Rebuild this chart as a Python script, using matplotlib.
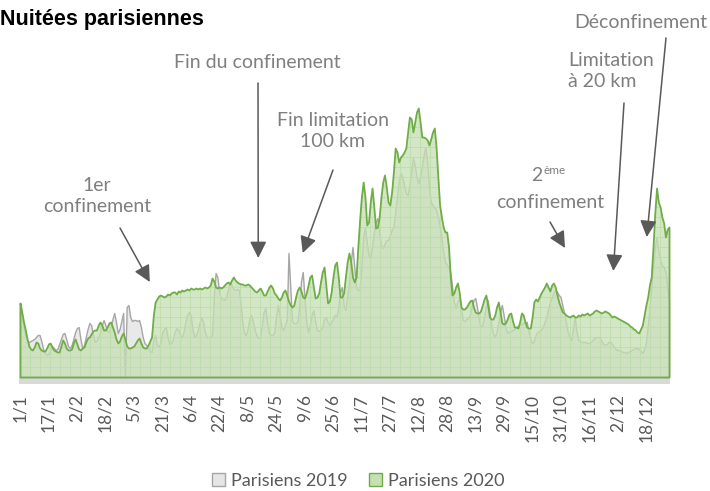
import numpy as np
import matplotlib
matplotlib.use("Agg")
import matplotlib.pyplot as plt
from matplotlib.colors import to_rgba
from matplotlib.patches import Patch

# Nuitées journalières (indice, 1/1 -> 31/12)
paris_2020 = [
    74, 65, 55, 47, 38, 31, 28, 27, 30, 35,
    34, 29, 27, 26, 26, 29, 33, 34, 30, 27,
    26, 25, 25, 31, 37, 34, 29, 27, 27, 28,
    34, 38, 33, 28, 27, 29, 30, 35, 39, 40,
    43, 46, 47, 47, 52, 55, 52, 47, 47, 50,
    54, 55, 50, 45, 38, 34, 36, 41, 44, 38,
    31, 29, 29, 30, 31, 34, 37, 39, 34, 30,
    29, 29, 32, 36, 40, 62, 75, 78, 81, 82,
    81, 80, 81, 83, 82, 84, 85, 85, 83, 86,
    85, 87, 86, 87, 88, 87, 89, 88, 88, 89,
    88, 89, 88, 89, 90, 89, 90, 92, 99, 96,
    90, 89, 90, 89, 90, 92, 94, 95, 93, 97,
    100, 97, 95, 94, 93, 93, 92, 92, 93, 92,
    90, 88, 86, 85, 87, 89, 86, 82, 82, 86,
    90, 92, 89, 84, 82, 79, 77, 80, 85, 87,
    82, 76, 72, 70, 72, 80, 87, 90, 86, 80,
    79, 84, 92, 100, 102, 90, 79, 80, 84, 95,
    105, 110, 92, 74, 76, 85, 100, 112, 115, 100,
    80, 80, 84, 100, 115, 124, 115, 100, 95, 100,
    130, 157, 180, 195, 180, 152, 155, 175, 189, 170,
    149, 150, 160, 180, 195, 202, 190, 175, 172, 185,
    205, 229, 225, 215, 220, 222, 225, 229, 245, 260,
    258, 245, 255, 265, 269, 255, 240, 240, 239, 237,
    232, 238, 245, 249, 230, 200, 172, 160, 150, 145,
    145, 130, 100, 82, 84, 90, 94, 85, 70, 68,
    68, 70, 73, 76, 77, 70, 65, 64, 64, 66,
    72, 78, 82, 72, 60, 58, 58, 62, 70, 75,
    65, 54, 53, 54, 58, 63, 64, 56, 50, 50,
    49, 55, 64, 62, 55, 50, 49, 49, 60, 75,
    78, 76, 80, 84, 87, 90, 94, 90, 86, 92,
    94, 90, 82, 75, 70, 65, 64, 62, 61, 60,
    61, 62, 60, 60, 62, 61, 63, 62, 63, 64,
    62, 63, 64, 66, 67, 66, 65, 64, 65, 66,
    65, 64, 62, 60, 61, 60, 59, 58, 57, 56,
    55, 54, 53, 51, 50, 48, 47, 45, 44, 48,
    52, 62, 72, 80, 92, 100, 130, 164, 189, 175,
    170, 160, 154, 140, 148, 150,
]

paris_2019 = [
    74, 62, 50, 42, 36, 35, 36, 37, 38, 40,
    42, 42, 36, 28, 24, 22, 23, 27, 31, 29,
    27, 28, 33, 38, 43, 44, 38, 31, 29, 32,
    38, 45, 49, 50, 38, 29, 32, 40, 48, 54,
    52, 42, 35, 36, 40, 44, 52, 57, 52, 46,
    45, 50, 58, 64, 55, 44, 48, 56, 64, 0,
    70, 72, 60, 56, 57, 57, 56, 57, 50, 40,
    34, 32, 30, 26, 25, 37, 42, 32, 30, 35,
    45, 48, 50, 40, 33, 34, 38, 45, 49, 47,
    42, 40, 45, 55, 62, 65, 62, 48, 40, 42,
    47, 55, 59, 55, 45, 40, 40, 40, 42, 80,
    104, 100, 85, 79, 78, 77, 80, 88, 95, 92,
    88, 87, 88, 87, 75, 55, 44, 42, 48, 58,
    62, 55, 47, 42, 39, 40, 52, 65, 69, 55,
    44, 42, 42, 45, 60, 72, 62, 50, 47, 52,
    57, 124, 90, 56, 54, 54, 55, 70, 95, 105,
    80, 55, 45, 52, 62, 67, 56, 47, 46, 47,
    50, 58, 60, 55, 52, 55, 58, 62, 60, 70,
    85, 90, 72, 67, 80, 94, 115, 130, 110, 90,
    87, 88, 110, 140, 150, 135, 122, 119, 130, 145,
    155, 159, 145, 132, 129, 133, 137, 137, 142, 147,
    150, 165, 180, 195, 204, 200, 192, 184, 182, 192,
    205, 219, 212, 200, 194, 200, 210, 222, 230, 215,
    190, 175, 172, 170, 167, 160, 152, 140, 125, 115,
    112, 110, 105, 90, 75, 69, 75, 79, 70, 57,
    56, 58, 59, 62, 70, 77, 79, 70, 58, 50,
    52, 60, 70, 77, 65, 52, 44, 40, 45, 55,
    65, 72, 62, 50, 44, 45, 46, 47, 48, 50,
    51, 52, 53, 54, 55, 55, 45, 38, 34, 36,
    42, 45, 46, 47, 50, 55, 60, 68, 75, 79,
    84, 87, 85, 82, 80, 72, 64, 55, 45, 40,
    37, 48, 60, 45, 37, 36, 35, 35, 35, 34,
    34, 35, 37, 39, 40, 40, 40, 36, 33, 32,
    33, 35, 35, 33, 30, 28, 27, 27, 26, 25,
    25, 24, 25, 26, 27, 28, 29, 29, 28, 26,
    24, 28, 34, 50, 67, 90, 110, 130, 140, 125,
    117, 112, 110, 105, 90, 77,
]

tick_labels = ["1/1", "17/1", "2/2", "18/2", "5/3", "21/3", "6/4", "22/4",
               "8/5", "24/5", "9/6", "25/6", "11/7", "27/7", "12/8", "28/8",
               "13/9", "29/9", "15/10", "31/10", "16/11", "2/12", "18/12"]

# annotations : texte, flèche (pointe en données)
events = [
    ("1er\nconfinement", 73, 95),
    ("Fin du confinement", 134, 119),
    ("Fin limitation\n100 km", 159, 124),
    ("confinement", 306.5, 129),
    ("Limitation\nà 20 km", 333.7, 106),
    ("Déconfinement", 352.5, 140),
]

W, H = 710, 491
GREY_TXT = "#7f7f7f"
ARROW = "#595959"
FONT = "Lato"

fig = plt.figure(figsize=(W / 100, H / 100), dpi=100)
ax = fig.add_axes([19.1 / W, (H - 384) / H, 650.8 / W, (384 - 30) / H])

days = np.arange(len(paris_2020))
ax.set_xlim(-0.5, 365.5)
ax.set_ylim(-7, 347)

# bande grise sous le graphique
ax.axhspan(-7, 0, color="#d9d9d9", lw=0, zorder=0)

ax.fill_between(np.arange(len(paris_2019)), 0, paris_2019,
                facecolor="#e9e9e9", edgecolor="#a6a6a6", lw=1, zorder=1)
poly = ax.fill_between(days, 0, paris_2020,
                       facecolor=to_rgba("#c5e0b4", 0.75),
                       edgecolor="#70ad47", lw=1.3, zorder=3)

# motif quadrillé dans la surface verte
path = poly.get_paths()[0]
gx = np.arange(0, 366, 10 / 1.778)
gy = np.arange(10, 347, 10)
vl = ax.vlines(gx, 0, 347, colors="#a9d18e", lw=0.8, alpha=0.8, zorder=2.5)
hl = ax.hlines(gy, -0.5, 365.5, colors="#a9d18e", lw=0.8, alpha=0.8, zorder=2.5)
vl.set_clip_path(path, ax.transData)
hl.set_clip_path(path, ax.transData)

for s in ax.spines.values():
    s.set_visible(False)
ax.set_yticks([])
ax.set_xticks(np.arange(0, 366, 16))
ax.set_xticklabels(tick_labels, rotation=90, fontsize=12.5, color="#595959",
                   family=FONT)
ax.tick_params(axis="x", length=0, pad=7)

# titre
fig.text(0.0, 1 - 19 / H, "Nuitées parisiennes", ha="left", va="center",
         fontsize=15.5, fontweight="bold", family="Liberation Sans")

# textes des annotations (positions en pixels)
txt_pos = [(97, 196, "center"), (257, 62, "center"), (333, 131, "center"),
           (550, 202, "center"), (568, 71, "left"), (707, 22, "right")]
tails = [(120, 228), (258, 83), (333, 170), (550, 222), (624, 103), (666, 38)]

for (label, dx, dy), (tx, ty, ha), (ax0, ay0) in zip(events, txt_pos, tails):
    fig.text(tx / W, 1 - ty / H, label, ha=ha, va="center", color=GREY_TXT,
             fontsize=14, family=FONT, linespacing=1.3, multialignment=ha)
    ax.annotate("", xy=(dx, dy), xycoords="data",
                xytext=(ax0, H - ay0), textcoords="figure pixels",
                arrowprops=dict(arrowstyle="-|>,head_length=1.0,head_width=0.5",
                                mutation_scale=10, lw=1.1, color=ARROW,
                                shrinkA=0, shrinkB=0))

fig.text(537 / W, 1 - 176 / H, "2", ha="center", va="center", color=GREY_TXT,
         fontsize=14, family=FONT)
fig.text(543 / W, 1 - 170 / H, "ème", ha="left", va="center", color=GREY_TXT,
         fontsize=8.5, family=FONT)

handles = [Patch(facecolor="#e7e6e6", edgecolor="#a6a6a6", label="Parisiens 2019"),
           Patch(facecolor="#c5e0b4", edgecolor="#70ad47", label="Parisiens 2020")]
fig.legend(handles=handles, loc="center", bbox_to_anchor=(358 / W, 1 - 481 / H),
           ncol=2, frameon=False, handlelength=0.75, handleheight=0.75,
           handletextpad=0.3, columnspacing=1.2,
           prop={"family": FONT, "size": 13}, labelcolor="#595959")

fig.savefig("out.png", dpi=100)
